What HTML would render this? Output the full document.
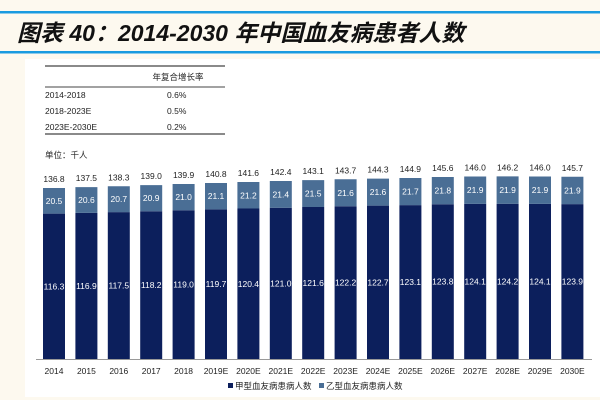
<!DOCTYPE html>
<html><head><meta charset="utf-8"><style>
body{margin:0;width:600px;height:400px;background:#fdf9ef;overflow:hidden;font-family:"Liberation Sans","Noto Sans CJK SC",sans-serif}
</style></head><body>
<svg width="600" height="400" xmlns="http://www.w3.org/2000/svg" style="position:absolute;left:0;top:0" font-family="Liberation Sans, Noto Sans CJK SC, sans-serif">
<rect x="0" y="11" width="600" height="2.5" fill="#1a9be0"/>
<text x="17" y="41" font-size="23" font-weight="bold" font-style="italic" fill="#111">图表 40：2014-2030 年中国血友病患者人数</text>
<rect x="0" y="51" width="600" height="2.5" fill="#1a9be0"/>
<rect x="25" y="59" width="575" height="338" fill="#fff"/>
<g font-size="8.5" fill="#222">
<line x1="45" y1="66" x2="225" y2="66" stroke="#444" stroke-width="1.2"/>
<line x1="45" y1="87" x2="225" y2="87" stroke="#444" stroke-width="1"/>
<line x1="45" y1="134" x2="225" y2="134" stroke="#444" stroke-width="1.2"/>
<text x="178" y="80" text-anchor="middle">年复合增长率</text>
<text x="45" y="98">2014-2018</text><text x="167" y="98">0.6%</text>
<text x="45" y="114">2018-2023E</text><text x="167" y="114">0.5%</text>
<text x="45" y="130">2023E-2030E</text><text x="167" y="130">0.2%</text>
</g>
<text x="45" y="158" font-size="8.5" fill="#222">单位：千人</text>
<g id="chart"></g>
<g font-size="8.5" fill="#222">
<rect x="228" y="383" width="5" height="5" fill="#0c1f5c"/><text x="235" y="389">甲型血友病患病人数</text>
<rect x="319" y="383" width="5" height="5" fill="#4a6e95"/><text x="326" y="389">乙型血友病患病人数</text>
</g>
</svg>
<script>
const categories=["2014","2015","2016","2017","2018","2019E","2020E","2021E","2022E","2023E","2024E","2025E","2026E","2027E","2028E","2029E","2030E"];
const seriesA=[116.3,116.9,117.5,118.2,119.0,119.7,120.4,121.0,121.6,122.2,122.7,123.1,123.8,124.1,124.2,124.1,123.9];
const seriesB=[20.5,20.6,20.7,20.9,21.0,21.1,21.2,21.4,21.5,21.6,21.6,21.7,21.8,21.9,21.9,21.9,21.9];
const totals=["136.8","137.5","138.3","139.0","139.9","140.8","141.6","142.4","143.1","143.7","144.3","144.9","145.6","146.0","146.2","146.0","145.7"];
const NS="http://www.w3.org/2000/svg";
const g=document.getElementById('chart');
const base=359,k=1.25,x0=54,step=32.4,bw=22;
const xs=i=>x0+i*step, ys=v=>base-v*k;
function mk(t,a){const e=document.createElementNS(NS,t);for(const n in a)e.setAttribute(n,a[n]);g.appendChild(e);return e;}
const ax=mk('line',{x1:36,x2:592,y1:base+0.5,y2:base+0.5,stroke:'#999','stroke-width':1});


categories.forEach((c,i)=>{
  const cx=xs(i),a=seriesA[i],b=seriesB[i];
  const r1=mk('rect',{x:cx-bw/2,y:ys(a),width:bw,height:a*k,fill:'#0c1f5c'});
  
  
  const r2=mk('rect',{x:cx-bw/2,y:ys(a+b),width:bw,height:b*k,fill:'#4a6e95'});
  
  
  const t1=mk('text',{x:cx,y:ys(a/2)+3,'text-anchor':'middle','font-size':8.5,fill:'#fff'});t1.textContent=a.toFixed(1);
  
  
  const t2=mk('text',{x:cx,y:ys(a+b/2)+3,'text-anchor':'middle','font-size':8.5,fill:'#fff'});t2.textContent=b.toFixed(1);
  
  
  const t3=mk('text',{x:cx,y:ys(a+b)-6,'text-anchor':'middle','font-size':8.5,fill:'#222'});t3.textContent=totals[i];
  
  
  const t4=mk('text',{x:cx,y:base+15,'text-anchor':'middle','font-size':8.5,fill:'#222'});t4.textContent=c;
  
  
});
</script>
</body></html>
